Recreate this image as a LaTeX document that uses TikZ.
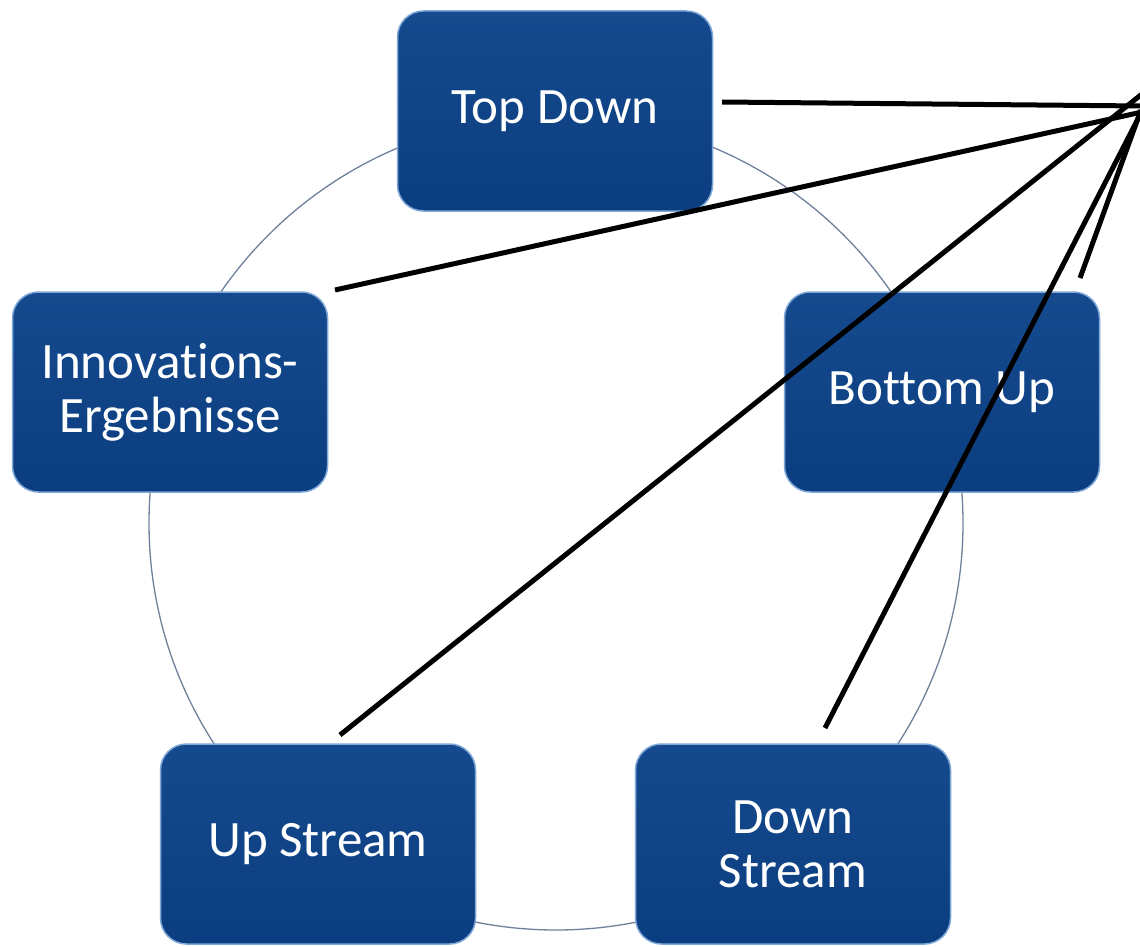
\documentclass[tikz,border=0pt]{standalone}
\usepackage{fontspec}
\setmainfont[Ligatures={NoCommon}]{Carlito}
\begin{document}
\begin{tikzpicture}[x=1pt,y=-1pt,
  box/.style={rounded corners=26pt, minimum width=315pt, minimum height=200pt,
    top color=boxtop, bottom color=boxbot, draw=boxedge, line width=1.5pt,
    text=white, align=center, font=\fontsize{51}{54}\selectfont, inner sep=0pt},
  ring/.style={draw=ringcol, line width=1.3pt},
  conn/.style={draw=black, line width=5pt}]
\definecolor{boxtop}{HTML}{154A8E}
\definecolor{boxbot}{HTML}{0B3E80}
\definecolor{boxedge}{HTML}{7FA8D6}
\definecolor{ringcol}{HTML}{6F8199}
\useasboundingbox (0,0) rectangle (1140,947);
\clip (0,0) rectangle (1140,947);
\fill[white] (0,0) rectangle (1140,947);
\coordinate (c) at (556,523);
\draw[ring] (c) circle[radius=407];
\node[box] (td) at (555,111) {Top Down};
\node[box] (ie) at (170,392) {Innovations-\\Ergebnisse};
\node[box] (bu) at (942,392) {Bottom Up};
\node[box] (us) at (318,844) {Up Stream};
\node[box] (ds) at (793,844) {Down\\Stream};
\coordinate (s1) at (722,102);
\coordinate (e1) at (1142,106);
\coordinate (s2) at (335,290);
\coordinate (e2) at (1142,112);
\coordinate (s3) at (340,735);
\coordinate (e3) at (1142,94);
\coordinate (s4) at (825,728);
\coordinate (e4) at (1142,111);
\coordinate (s5) at (1080,278);
\coordinate (e5) at (1141,110);
\draw[conn] (s1) -- (e1);
\draw[conn] (s2) -- (e2);
\draw[conn] (s3) -- (e3);
\draw[conn] (s4) -- (e4);
\draw[conn] (s5) -- (e5);
\end{tikzpicture}
\end{document}
